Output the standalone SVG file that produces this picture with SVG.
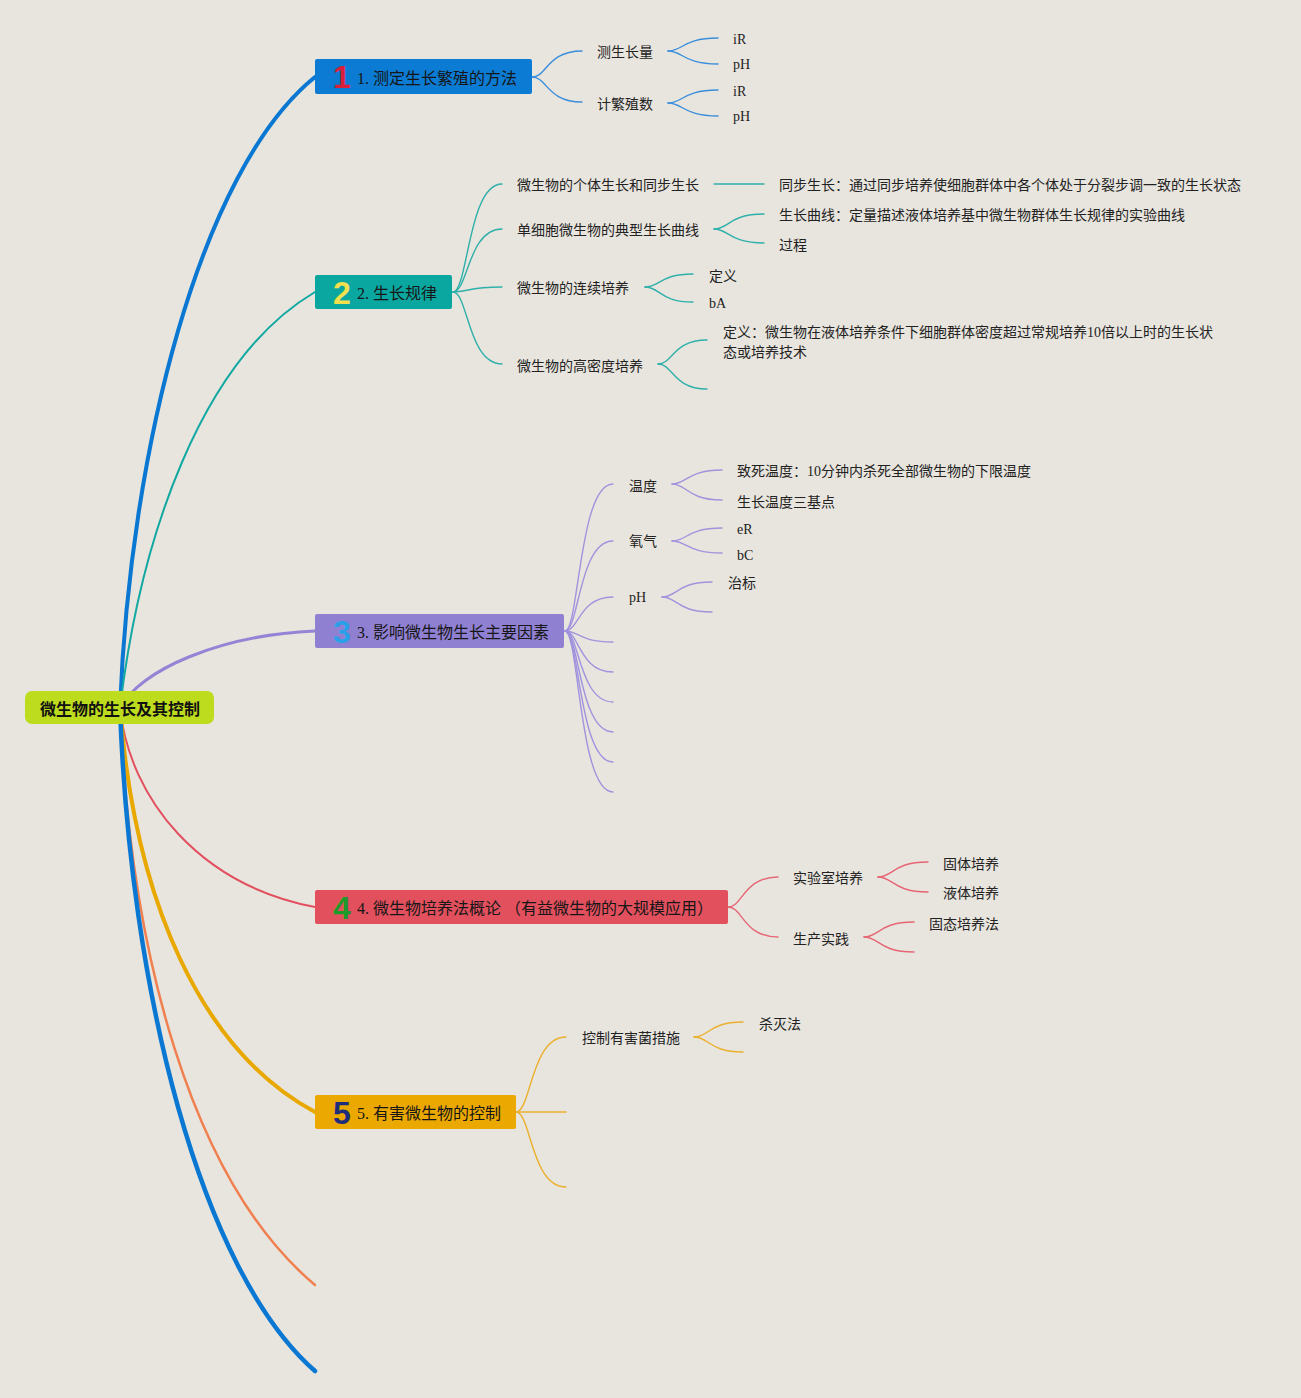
<svg xmlns="http://www.w3.org/2000/svg" width="1301" height="1398" viewBox="0 0 1301 1398">
<style>
.t{font-family:'Liberation Serif','Noto Sans CJK SC',serif;font-size:14px;fill:#222}
.h{font-family:'Liberation Serif','Noto Sans CJK SC',serif;font-size:16px;fill:#161616}
.n{font-family:'Liberation Sans',sans-serif;font-weight:bold;font-size:32px;text-anchor:middle}
.c{fill:none;stroke-linecap:round}
.b{stroke:#3A8EDC;stroke-width:1.4}
.g{stroke:#2FB0AA;stroke-width:1.4}
.p{stroke:#A193DE;stroke-width:1.4}
.r{stroke:#E66675;stroke-width:1.4}
.o{stroke:#EBB02E;stroke-width:1.4}
</style>
<rect x="0" y="0" width="1301" height="1398" fill="#E8E5DE"/>
<g id="connectors">
<path class="c" stroke="#0A78D2" stroke-width="4" d="M120,708 C130,450 200,170 315,77"/>
<path class="c" stroke="#12A8A2" stroke-width="2" d="M120,708 C140,540 200,360 315,292"/>
<path class="c" stroke="#9484D6" stroke-width="3" d="M120,708 C140,670 220,635 315,631"/>
<path class="c" stroke="#E2505F" stroke-width="2" d="M120,708 C130,800 200,885 315,907"/>
<path class="c" stroke="#E9A800" stroke-width="4" d="M120,708 C135,900 200,1050 315,1112"/>
<path class="c" stroke="#F08050" stroke-width="2.5" d="M120,708 C130,950 190,1180 315,1285"/>
<path class="c" stroke="#0A78D2" stroke-width="4.5" d="M120,708 C130,990 200,1270 315,1371"/>
<g class="c b">
<path d="M532,77 C547,77 547,51 582,51"/>
<path d="M532,77 C547,77 547,102 582,102"/>
<path d="M668,51 C683,51 683,38 718,38"/>
<path d="M668,51 C683,51 683,64 718,64"/>
<path d="M668,103 C683,103 683,90 718,90"/>
<path d="M668,103 C683,103 683,116 718,116"/>
</g>
<g class="c g">
<path d="M453,292 C468,292 468,184 502,184"/>
<path d="M453,292 C468,292 468,229 502,229"/>
<path d="M453,292 C468,292 468,287 502,287"/>
<path d="M453,292 C468,292 468,364 502,364"/>
<path d="M714,184 L764,184"/>
<path d="M714,229 C729,229 729,214 764,214"/>
<path d="M714,229 C729,229 729,243 764,243"/>
<path d="M645,287 C660,287 660,274 693,274"/>
<path d="M645,287 C660,287 660,302 693,302"/>
<path d="M658,364 C673,364 673,340 707,340"/>
<path d="M658,364 C673,364 673,389 707,389"/>
</g>
<g class="c p">
<path d="M565,631 C579,631 579,484 613,484"/>
<path d="M565,631 C579,631 579,541 613,541"/>
<path d="M565,631 C579,631 579,597 613,597"/>
<path d="M565,631 C579,631 579,642 613,642"/>
<path d="M565,631 C579,631 579,672 613,672"/>
<path d="M565,631 C579,631 579,702 613,702"/>
<path d="M565,631 C579,631 579,732 613,732"/>
<path d="M565,631 C579,631 579,762 613,762"/>
<path d="M565,631 C579,631 579,792 613,792"/>
<path d="M672,484 C687,484 687,470 722,470"/>
<path d="M672,484 C687,484 687,500 722,500"/>
<path d="M672,541 C687,541 687,528 722,528"/>
<path d="M672,541 C687,541 687,553 722,553"/>
<path d="M662,597 C677,597 677,582 712,582"/>
<path d="M662,597 C677,597 677,612 712,612"/>
</g>
<g class="c r">
<path d="M728,907 C743,907 743,877 778,877"/>
<path d="M728,907 C743,907 743,937 778,937"/>
<path d="M878,877 C893,877 893,862 928,862"/>
<path d="M878,877 C893,877 893,892 928,892"/>
<path d="M864,937 C879,937 879,922 914,922"/>
<path d="M864,937 C879,937 879,952 914,952"/>
</g>
<g class="c o">
<path d="M516,1112 C531,1112 531,1037 566,1037"/>
<path d="M516,1112 L566,1112"/>
<path d="M516,1112 C531,1112 531,1187 566,1187"/>
<path d="M694,1037 C709,1037 709,1022 743,1022"/>
<path d="M694,1037 C709,1037 709,1052 743,1052"/>
</g>
</g>
<g id="root">
<rect x="25" y="691" width="189" height="33" rx="7" fill="#BEDC1E"/>
<text x="120" y="714.5" text-anchor="middle" font-family="'Noto Sans CJK SC',sans-serif" font-weight="bold" font-size="16" fill="#111">微生物的生长及其控制</text>
</g>
<g id="node1">
<rect x="315" y="59" width="217" height="35" rx="2" fill="#0B7BD3"/>
<text class="n" x="342" y="88" fill="#D8203A">1</text>
<text class="h" x="357" y="83.5">1. 测定生长繁殖的方法</text>
</g>
<g id="node1-children">
<text class="t" x="597" y="57">测生长量</text>
<text class="t" x="597" y="109">计繁殖数</text>
<text class="t" x="733" y="44">iR</text>
<text class="t" x="733" y="69">pH</text>
<text class="t" x="733" y="96">iR</text>
<text class="t" x="733" y="121">pH</text>
</g>
<g id="node2">
<rect x="315" y="275" width="137" height="34" rx="2" fill="#0AA7A0"/>
<text class="n" x="342" y="303.5" fill="#F3E04E">2</text>
<text class="h" x="357" y="299">2. 生长规律</text>
</g>
<g id="node2-children">
<text class="t" x="517" y="190">微生物的个体生长和同步生长</text>
<text class="t" x="517" y="235">单细胞微生物的典型生长曲线</text>
<text class="t" x="517" y="293">微生物的连续培养</text>
<text class="t" x="517" y="371">微生物的高密度培养</text>
<text class="t" x="779" y="190">同步生长：通过同步培养使细胞群体中各个体处于分裂步调一致的生长状态</text>
<text class="t" x="779" y="220">生长曲线：定量描述液体培养基中微生物群体生长规律的实验曲线</text>
<text class="t" x="779" y="250">过程</text>
<text class="t" x="709" y="281">定义</text>
<text class="t" x="709" y="308">bA</text>
<text class="t" x="723" y="337">定义：微生物在液体培养条件下细胞群体密度超过常规培养10倍以上时的生长状</text>
<text class="t" x="723" y="357">态或培养技术</text>
</g>
<g id="node3">
<rect x="315" y="614" width="249" height="34" rx="2" fill="#9080D2"/>
<text class="n" x="342" y="642.5" fill="#2AA0E8">3</text>
<text class="h" x="357" y="638">3. 影响微生物生长主要因素</text>
</g>
<g id="node3-children">
<text class="t" x="629" y="491">温度</text>
<text class="t" x="629" y="546">氧气</text>
<text class="t" x="629" y="602">pH</text>
<text class="t" x="737" y="476">致死温度：10分钟内杀死全部微生物的下限温度</text>
<text class="t" x="737" y="507">生长温度三基点</text>
<text class="t" x="737" y="534">eR</text>
<text class="t" x="737" y="560">bC</text>
<text class="t" x="728" y="588">治标</text>
</g>
<g id="node4">
<rect x="315" y="890" width="413" height="34" rx="2" fill="#E2505E"/>
<text class="n" x="342" y="918.5" fill="#1E9A2A">4</text>
<text class="h" x="357" y="914">4. 微生物培养法概论 （有益微生物的大规模应用）</text>
</g>
<g id="node4-children">
<text class="t" x="793" y="883">实验室培养</text>
<text class="t" x="793" y="944">生产实践</text>
<text class="t" x="943" y="869">固体培养</text>
<text class="t" x="943" y="898">液体培养</text>
<text class="t" x="929" y="929">固态培养法</text>
</g>
<g id="node5">
<rect x="315" y="1095" width="201" height="34" rx="2" fill="#EBA800"/>
<text class="n" x="342" y="1123.5" fill="#1F2D7A">5</text>
<text class="h" x="357" y="1119">5. 有害微生物的控制</text>
</g>
<g id="node5-children">
<text class="t" x="582" y="1043">控制有害菌措施</text>
<text class="t" x="759" y="1029">杀灭法</text>
</g>
</svg>
